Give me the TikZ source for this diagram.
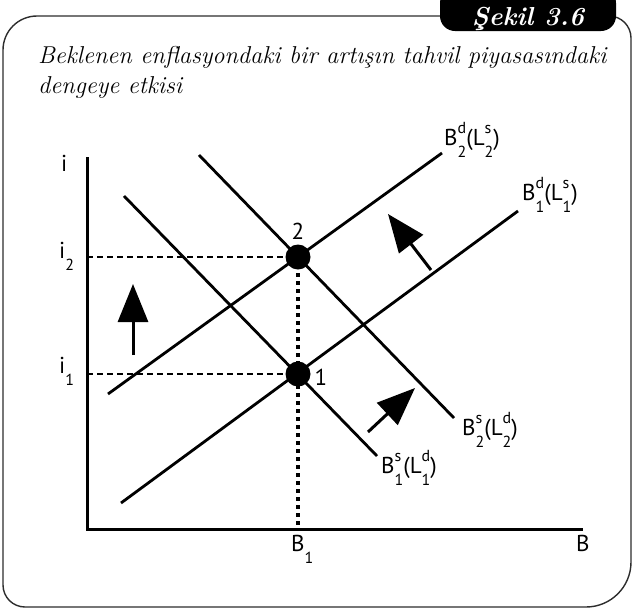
\documentclass[tikz,border=0pt]{standalone}
\usepackage{fontspec}
\setsansfont{PT Sans}
\usetikzlibrary{arrows.meta}
\definecolor{framegray}{RGB}{45,45,45}
\tikzset{
  frameline/.style = {draw=framegray, line width=1.4pt},
  tagbox/.style    = {fill=black, rounded corners=15pt},
  tagtext/.style   = {inner sep=0pt, text=white, font=\fontsize{26}{26}\selectfont\bfseries\itshape},
  titletext/.style = {inner sep=0pt, align=left, font=\fontsize{24.4}{30}\selectfont\itshape},
  axisline/.style  = {line width=3pt, line join=miter},
  curve/.style     = {line width=2.8pt},
  guideh/.style    = {line width=2pt, dash pattern=on 6pt off 4pt},
  guidev/.style    = {line width=3.5pt, dash pattern=on 4pt off 4pt},
  eqdot/.style     = {circle, fill=black, minimum size=25pt, inner sep=0pt},
  shiftarrow/.style= {line width=3pt, -{Triangle[length=38pt, width=30pt]}},
  lbl/.style       = {font=\sffamily\fontsize{23}{23}\selectfont, inner sep=0pt},
}
\newcommand\scr[1]{{\fontsize{16}{16}\selectfont #1}}
\newcommand\stk[2]{\rlap{\raisebox{1.0ex}{\scr{#1}}}\raisebox{-1.05ex}{\scr{#2}}}
\newcommand\crv[4]{B\stk{#1}{#2}(L\stk{#3}{#4})}
\newcommand\lowsub[1]{\raisebox{-1.05ex}{\scr{#1}}}

\begin{document}
\begin{tikzpicture}[x=1pt, y=-1pt]
  \useasboundingbox (0,0) rectangle (635,611);

  % frame and tag
  \draw[frameline] (440,16) [rounded corners=34pt] -- (3,16) [rounded corners=22pt] -- (3,607)
    [rounded corners=45pt] -- (631,607) [rounded corners=22pt] -- (631,16) -- (600,16);
  \fill[tagbox] (440,-12) rectangle (616,31);
  \node[tagtext, anchor=base] (tag) at (528,25) {Şekil 3.6};
  \node[titletext, anchor=north west] (title) at (38,46)
    {Beklenen enflasyondaki bir artışın tahvil piyasasındaki\\dengeye etkisi};

  % axes
  \coordinate (O) at (87,529);
  \coordinate (ytop) at (87,157);
  \coordinate (xend) at (583,529);
  \draw[axisline] (ytop) -- (O) -- (xend);

  % equilibria
  \coordinate (e2) at (298,257);
  \coordinate (e1) at (298,374);
  \coordinate (y2) at (87,257);
  \coordinate (y1) at (87,374);
  \coordinate (x1) at (298,529);
  \draw[guideh] (y2) -- (e2);
  \draw[guideh] (y1) -- (e1);
  \draw[guidev] (e2) -- (x1);

  % curves
  \coordinate (d2a) at (108,394);  \coordinate (d2b) at (442,153);
  \coordinate (d1a) at (121,503);  \coordinate (d1b) at (518,211);
  \coordinate (s1a) at (124,196);  \coordinate (s1b) at (377,456);
  \coordinate (s2a) at (199,155);  \coordinate (s2b) at (454,418);
  \draw[curve] (d2a) -- (d2b);
  \draw[curve] (d1a) -- (d1b);
  \draw[curve] (s1a) -- (s1b);
  \draw[curve] (s2a) -- (s2b);

  \node[eqdot] (dot2) at (e2) {};
  \node[eqdot] (dot1) at (e1) {};
  \node[lbl] (n2) at (298,231) {2};
  \node[lbl] (n1) at (321,377) {1};

  % shift arrows
  \coordinate (u0) at (133,355);  \coordinate (u1) at (133,284);
  \coordinate (l0) at (431,270);  \coordinate (l1) at (388,214);
  \coordinate (r0) at (368,432);  \coordinate (r1) at (415,388);
  \draw[shiftarrow] (u0) -- (u1);
  \draw[shiftarrow] (l0) -- (l1);
  \draw[shiftarrow] (r0) -- (r1);

  % labels
  \node[lbl, anchor=base west] (ilab) at (61,171) {i};
  \node[lbl, anchor=base west] (i2lab) at (59,258) {i\lowsub{2}};
  \node[lbl, anchor=base west] (i1lab) at (59,373) {i\lowsub{1}};
  \node[lbl, anchor=base west] (blab) at (576,551) {B};
  \node[lbl, anchor=base west] (b1lab) at (291,551) {B\lowsub{1}};
  \node[lbl, anchor=base west] (d2lab) at (444,145) {\crv{d}{2}{s}{2}};
  \node[lbl, anchor=base west] (d1lab) at (522,200) {\crv{d}{1}{s}{1}};
  \node[lbl, anchor=base west] (s2lab) at (462,435) {\crv{s}{2}{d}{2}};
  \node[lbl, anchor=base west] (s1lab) at (381,473) {\crv{s}{1}{d}{1}};
\end{tikzpicture}
\end{document}
